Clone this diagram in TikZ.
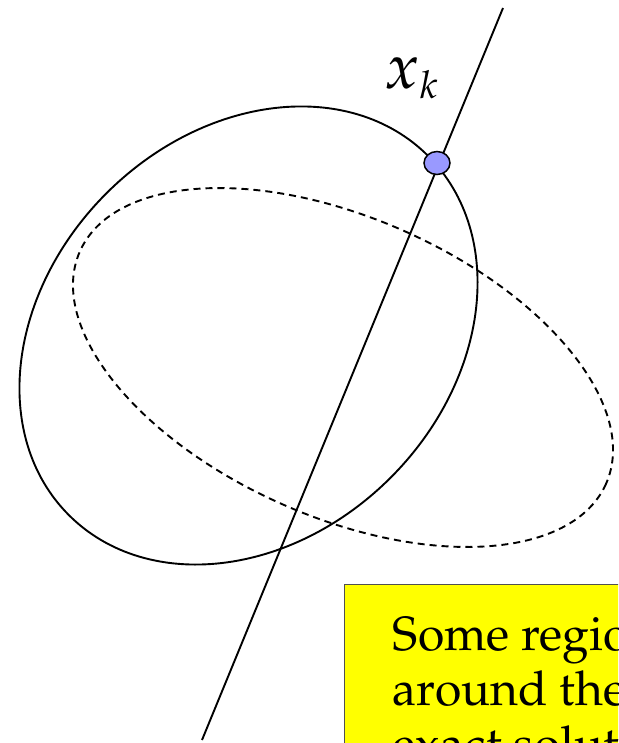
\documentclass[tikz,border=0pt]{standalone}
\usepackage[T1]{fontenc}
\usepackage{mathpazo}
\usepackage{xcolor}
\definecolor{dotblue}{RGB}{153, 153, 255}
\definecolor{noteyellow}{RGB}{255, 255, 0}
\definecolor{boxgray}{RGB}{80, 80, 80}
\usetikzlibrary{shapes.geometric}

\tikzset{
    iterate/.style={ellipse, draw, fill=dotblue, line width=1.5pt, minimum width=26pt, minimum height=23pt, inner sep=0pt},
    notebox/.style={draw=boxgray, fill=noteyellow, line width=1.4pt, minimum width=400pt, minimum height=250pt, inner sep=0pt},
    notetext/.style={align=left, inner sep=0pt, font=\fontsize{48}{55}\selectfont}
}

\begin{document}
\begin{tikzpicture}[x=1pt, y=-1pt, line width=1.9pt]
    \useasboundingbox (0,0) rectangle (618,743);
    \clip (0,0) rectangle (618,743);
    % level sets
    \draw (248.5,335.5) ellipse [x radius=254, y radius=201, rotate=45];
    \draw[dashed, dash pattern=on 7pt off 5pt] (343,367.5) ellipse [x radius=287.6, y radius=149.6, rotate=-23.8];
    % line through the iterate
    \coordinate (top) at (503,8);
    \coordinate (bottom) at (202,740);
    \draw (top) -- (bottom);
    \node[iterate] (xk) at (437,163) {};
    \node[anchor=base west, inner sep=0pt, font=\fontsize{64}{66}\selectfont] (xklabel) at (384,89) {$x_{\scriptscriptstyle k}$};
    % note
    \node[notebox, anchor=north west] (note) at (344,584) {};
    \node[notetext, anchor=base west] (notetext) at (392,760) {Some region\\around the\\exact solution};
\end{tikzpicture}
\end{document}
